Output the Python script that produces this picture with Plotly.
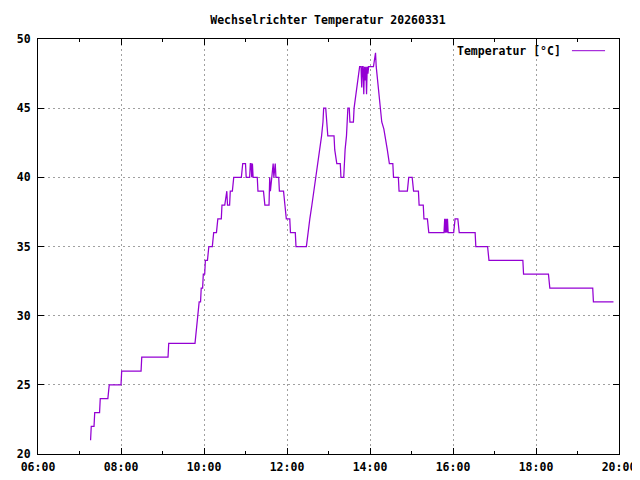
import plotly.graph_objects as go

DATE = "2026-03-31"

times = [
    "07:16", "07:17", "07:21", "07:22", "07:29", "07:30", "07:41", "07:43",
    "08:00", "08:01", "08:29", "08:30", "09:08", "09:09", "09:47", "09:49",
    "09:51", "09:53", "09:55", "09:56", "09:58", "09:59", "10:01", "10:02",
    "10:05", "10:07", "10:12", "10:14", "10:18", "10:20", "10:25", "10:26",
    "10:30", "10:32", "10:33", "10:34", "10:37", "10:38", "10:41", "10:43",
    "10:54", "10:56", "11:00", "11:01", "11:06", "11:07", "11:08", "11:09",
    "11:10", "11:11", "11:17", "11:18", "11:26", "11:28", "11:34", "11:35",
    "11:36", "11:38", "11:40", "11:41", "11:42", "11:43", "11:44", "11:48",
    "11:49", "11:55", "11:57", "11:59", "12:04", "12:05", "12:12", "12:13",
    "12:28", "12:30", "12:33", "12:36", "12:39", "12:41", "12:44", "12:47",
    "12:50", "12:52", "12:53", "12:56", "12:57", "12:59", "13:08", "13:09",
    "13:12", "13:17", "13:18", "13:22", "13:24", "13:26", "13:28", "13:30",
    "13:31", "13:36", "13:37", "13:40", "13:43", "13:45", "13:47", "13:48",
    "13:49", "13:50", "13:51", "13:52", "13:53", "13:54", "13:55", "13:56",
    "13:57", "13:58", "14:05", "14:06", "14:07", "14:08", "14:09", "14:10",
    "14:13", "14:15", "14:17", "14:20", "14:22", "14:25", "14:28", "14:33",
    "14:34", "14:41", "14:42", "14:54", "14:56", "15:01", "15:03", "15:10",
    "15:11", "15:17", "15:18", "15:23", "15:25", "15:47", "15:48", "15:49",
    "15:50", "15:51", "15:52", "15:53", "16:01", "16:03", "16:07", "16:09",
    "16:32", "16:33", "16:50", "16:52", "17:41", "17:42", "18:18", "18:20",
    "19:22", "19:23", "19:52",
]

temps = [
    21, 22, 22, 23, 23, 24, 24, 25,
    25, 26, 26, 27, 27, 28, 28, 29,
    30, 31, 31, 32, 32, 33, 33, 34,
    34, 35, 35, 36, 36, 37, 37, 38,
    38, 39, 39, 38, 38, 39, 39, 40,
    40, 41, 41, 40, 40, 41, 41, 40,
    41, 40, 40, 39, 39, 38, 38, 40,
    39, 40, 41, 40, 41, 41, 40, 40,
    39, 39, 38, 37, 37, 36, 36, 35,
    35, 36, 37, 38, 39, 40, 41, 42,
    43, 44, 45, 45, 44, 43, 43, 42,
    41, 41, 40, 40, 42, 43, 45, 45,
    44, 44, 45, 46, 47, 48, 48, 46.5,
    48, 48, 46, 48, 47, 48, 46, 48,
    47.5, 48, 48, 48.5, 49, 49, 48, 47.5,
    46, 45, 44, 43.5, 43, 42, 41, 41,
    40, 40, 39, 39, 40, 40, 39, 39,
    38, 38, 37, 37, 36, 36, 37, 36,
    37, 36, 37, 36, 36, 37, 37, 36,
    36, 35, 35, 34, 34, 33, 33, 32,
    32, 31, 31,
]

x_range = ["06:00", "20:00"]
y_range = [20, 50]
y_ticks = [20, 25, 30, 35, 40, 45, 50]

title_text = "Wechselrichter Temperatur 20260331"
legend_text = "Temperatur [°C]"

LINE_COLOR = "#9400D3"
FONT = dict(family="DejaVu Sans Mono", size=11.5, color="black", weight="bold")

xs = [f"{DATE} {t}" for t in times]

fig = go.Figure()
fig.add_trace(go.Scatter(
    x=xs, y=temps, mode="lines",
    line=dict(color=LINE_COLOR, width=1.25),
    showlegend=False, hoverinfo="skip",
))

# the page body adds an 8px offset, so the figure is 632x472
fig.update_layout(
    width=632, height=472,
    margin=dict(l=30, r=21, t=31, b=26, pad=0),
    paper_bgcolor="white", plot_bgcolor="white",
    font=FONT,
    title=dict(text=title_text, x=0.5063, xanchor="center", y=0.9746,
               yanchor="middle", font=FONT, automargin=False),
    showlegend=False,
)

fig.update_xaxes(
    type="date", automargin=False,
    range=[f"{DATE} {x_range[0]}", f"{DATE} {x_range[1]}"],
    tickformat="%H:%M", dtick=2 * 3600 * 1000,
    tick0=f"{DATE} 00:00",
    showline=True, linecolor="black", linewidth=1, mirror="allticks",
    ticks="inside", ticklen=6, tickcolor="black", ticklabelstandoff=2,
    minor=dict(dtick=3600 * 1000, ticks="inside", ticklen=3, tickcolor="black",
               showgrid=False),
    showgrid=True, gridcolor="#a0a0a0", griddash="2px,3px", gridwidth=1,
    zeroline=False, tickfont=FONT,
)

fig.update_yaxes(
    range=y_range, tickvals=y_ticks, automargin=False,
    showline=True, linecolor="black", linewidth=1, mirror="allticks",
    ticks="inside", ticklen=6, tickcolor="black", ticklabelstandoff=4,
    showgrid=True, gridcolor="#a0a0a0", griddash="2px,3px", gridwidth=1,
    zeroline=False, tickfont=FONT,
)

# gnuplot-style key: text to the left of the line sample
fig.add_annotation(
    text=legend_text, xref="paper", yref="paper",
    x=0.904, y=0.9718, xanchor="right", yanchor="middle",
    showarrow=False, font=FONT,
)
fig.add_shape(
    type="line", xref="paper", yref="paper",
    x0=0.919, x1=0.976, y0=0.9718, y1=0.9718,
    line=dict(color=LINE_COLOR, width=1),
)

fig.write_html("out.html")
